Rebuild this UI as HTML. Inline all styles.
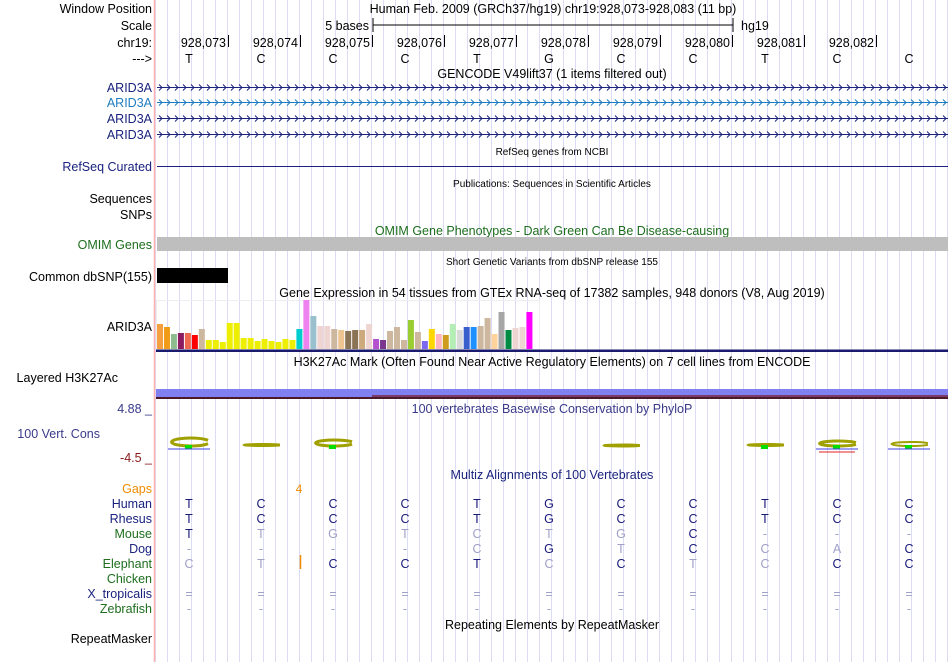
<!DOCTYPE html>
<html><head><meta charset="utf-8">
<style>
body{margin:0;background:#fff;width:950px;height:662px;overflow:hidden;font-family:"Liberation Sans",sans-serif}
svg{display:block}
text{font-family:"Liberation Sans",sans-serif}
</style></head>
<body>
<svg id="chart" width="950" height="662" xmlns="http://www.w3.org/2000/svg">
<g id="grid"></g>
<line x1="154.5" y1="0" x2="154.5" y2="662" stroke="#ffb0b0" stroke-width="1.5"/>
<g font-size="12.5" text-anchor="end" fill="#000">
<text x="152" y="13">Window Position</text>
<text x="152" y="30">Scale</text>
<text x="152" y="47">chr19:</text>
<text x="152" y="63">---&gt;</text>
<text x="152" y="92" fill="#1a237e">ARID3A</text>
<text x="152" y="107" fill="#1e7cc0">ARID3A</text>
<text x="152" y="123" fill="#1a237e">ARID3A</text>
<text x="152" y="139" fill="#1a237e">ARID3A</text>
<text x="152" y="171" fill="#1a237e">RefSeq Curated</text>
<text x="152" y="203">Sequences</text>
<text x="152" y="219">SNPs</text>
<text x="152" y="249" fill="#1e6e1e">OMIM Genes</text>
<text x="152" y="281">Common dbSNP(155)</text>
<text x="152" y="331">ARID3A</text>
<text x="118" y="382">Layered H3K27Ac</text>
<text x="152" y="413" fill="#3a3a8a">4.88 _</text>
<text x="100" y="438" fill="#3a3a8a">100 Vert. Cons</text>
<text x="152" y="462" fill="#8a1a1a">-4.5 _</text>
<text x="152" y="493" fill="#f08c00">Gaps</text>
<text x="152" y="508" fill="#1a237e">Human</text>
<text x="152" y="523" fill="#1a237e">Rhesus</text>
<text x="152" y="538" fill="#1e6e1e">Mouse</text>
<text x="152" y="553" fill="#1a237e">Dog</text>
<text x="152" y="568" fill="#1e6e1e">Elephant</text>
<text x="152" y="583" fill="#1e6e1e">Chicken</text>
<text x="152" y="598" fill="#1a237e">X_tropicalis</text>
<text x="152" y="613" fill="#1e6e1e">Zebrafish</text>
<text x="152" y="643">RepeatMasker</text>
</g>
<g font-size="12.5" text-anchor="middle">
<text x="553" y="13">Human Feb. 2009 (GRCh37/hg19)   chr19:928,073-928,083 (11 bp)</text>
<text x="552" y="78">GENCODE V49lift37 (1 items filtered out)</text>
<text x="552" y="155" font-size="10">RefSeq genes from NCBI</text>
<text x="552" y="187" font-size="10">Publications: Sequences in Scientific Articles</text>
<text x="552" y="235" fill="#1e6e1e">OMIM Gene Phenotypes - Dark Green Can Be Disease-causing</text>
<text x="552" y="265" font-size="10">Short Genetic Variants from dbSNP release 155</text>
<text x="552" y="297">Gene Expression in 54 tissues from GTEx RNA-seq of 17382 samples, 948 donors (V8, Aug 2019)</text>
<text x="552" y="366">H3K27Ac Mark (Often Found Near Active Regulatory Elements) on 7 cell lines from ENCODE</text>
<text x="552" y="413" fill="#3a3a8a">100 vertebrates Basewise Conservation by PhyloP</text>
<text x="552" y="479" fill="#1a237e">Multiz Alignments of 100 Vertebrates</text>
<text x="552" y="629">Repeating Elements by RepeatMasker</text>
</g>
<g>
<text x="369" y="30" font-size="12.5" text-anchor="end">5 bases</text>
<line x1="373" y1="25" x2="733" y2="25" stroke="#000"/>
<line x1="373" y1="18" x2="373" y2="32" stroke="#000"/>
<line x1="733" y1="18" x2="733" y2="32" stroke="#000"/>
<text x="741" y="30" font-size="12.5">hg19</text>
</g>
<g id="ruler"></g>
<g id="genes"></g>
<line x1="157" y1="166.5" x2="948" y2="166.5" stroke="#1a237e"/>
<rect x="157" y="237" width="791" height="14" fill="#bebebe"/>
<rect x="157" y="268" width="71" height="15" fill="#000"/>
<rect x="156.5" y="300.5" width="383" height="49" fill="none" stroke="#eee"/>
<g id="gtex"></g>
<rect x="156" y="349.5" width="792" height="2.5" fill="#1a1a6e"/>
<g>
<rect x="156" y="389" width="216" height="8" fill="#8080f0"/>
<rect x="372" y="389" width="576" height="6" fill="#8080f0"/>
<rect x="372" y="395" width="576" height="2" fill="#7a3a6a"/>
<rect x="156" y="397" width="792" height="2" fill="#4a1a2a"/>
</g>
<g id="cons"></g>
<text x="299" y="493" font-size="12" fill="#f08c00" text-anchor="middle">4</text>
<line x1="300.5" y1="555" x2="300.5" y2="569" stroke="#f08c00" stroke-width="1.5"/>
<g id="aln"></g>
</svg>
<script>
const NS='http://www.w3.org/2000/svg';
const positions=['928,073','928,074','928,075','928,076','928,077','928,078','928,079','928,080','928,081','928,082'];
const refBases=['T','C','C','C','T','G','C','C','T','C','C'];
const gtexValues=[25,22,15,16,16,14,20,9,9,7,26,26,11,11,8,10,8,7,10,9,20,49,33,23,23,20,19,18,19,19,25,10,9,18,22,9,29,17,8,20,15,14,25,19,22,22,23,31,15,37,19,21,22,37];
const gtexColors=['#f4a040','#f09c18','#8fbc8f','#8b1c62','#ee6a50','#ff0000','#cdb79e','#eeee00','#eeee00','#eeee00','#eeee00','#eeee00','#eeee00','#eeee00','#eeee00','#eeee00','#eeee00','#eeee00','#eeee00','#eeee00','#00cdcd','#ee82ee','#9ac0cd','#eed5d2','#eed5d2','#cdb79e','#eec591','#8b7355','#8b7355','#cdaa7d','#eed5d2','#b452cd','#7a378b','#cdb79e','#cdb79e','#cdb79e','#9acd32','#cdb79e','#7b68ee','#ffd700','#ffb6c1','#cd9b1d','#b4eeb4','#d9d9d9','#3a5fcd','#1e90ff','#cdb79e','#cdb79e','#ffd39b','#a6a6a6','#008b45','#eed5d2','#eed5d2','#ff00ff'];
const species=['Human','Rhesus','Mouse','Dog','Elephant','Chicken','X_tropicalis','Zebrafish'];
const alnHuman='TCCCTGCCTCC';
const alnRhesus='TCCCTGCCTCC';
const alnMouse='TTGTCTGC---';
const alnDog='----CGTCCAC';
const alnElephant='CTCCTCCTCCC';
const alnChicken='           ';
const alnXtrop='===========';
const alnZebra='-----------';
const consCols=[0,1,2,6,8,9,10];
const consHeights=[8,2,6,1,2,5,4];

const X0=153, BW=72;
const bx=i=>X0+BW/2+BW*i;
function el(tag,attrs,parent,txt){const e=document.createElementNS(NS,tag);for(const k in attrs)e.setAttribute(k,attrs[k]);if(txt!==undefined)e.textContent=txt;parent.appendChild(e);return e;}

const grid=document.getElementById('grid');
for(let x=155;x<950;x+=12){const l=el('line',{x1:x+.5,y1:0,x2:x+.5,y2:662,stroke:'#dcdcf4'},grid);

}

const ruler=document.getElementById('ruler');
positions.forEach((p,i)=>{const tx=X0+BW*(i+1)+3;
const t=el('text',{x:tx-2,y:47,'font-size':12.5,'text-anchor':'end'},ruler,p);


const l=el('line',{x1:tx+.5,y1:35,x2:tx+.5,y2:47,stroke:'#000'},ruler);

});
refBases.forEach((b,i)=>{const t=el('text',{x:bx(i),y:63,'font-size':12.5,'text-anchor':'middle'},ruler,b);

});

const genes=document.getElementById('genes');
[[87,'#1a237e'],[102,'#1e7cc0'],[118,'#1a237e'],[134,'#1a237e']].forEach(([y,c])=>{
const g=el('g',{},genes);


el('line',{x1:157,y1:y+.5,x2:948,y2:y+.5,stroke:c},g);
let d='';for(let x=159;x<948;x+=8)d+=`M${x} ${y-2.5}L${x+3} ${y+.5}L${x} ${y+3.5}`;
el('path',{d:d,stroke:c,fill:'none','stroke-width':1},g);});

const gtex=document.getElementById('gtex');
const gy=d=>349-d;
gtexValues.forEach((v,i)=>{const r=el('rect',{x:157+i*6.97,y:gy(v),width:6,height:v,fill:gtexColors[i]},gtex);

});

const cons=document.getElementById('cons');
consCols.forEach((c,k)=>{const h=consHeights[k];const cx=bx(c);
const g=el('g',{},cons);


const ry=Math.max(1,h/2), cy=444-h/2+2;
el('path',{d:`M${cx+19} ${cy-ry*0.4} A19 ${ry} 0 1 0 ${cx+19} ${cy+ry*0.4}`,fill:'none',stroke:'#a0a000','stroke-width':h>=5?3:2},g);
if(h>=2&&c!==1)el('rect',{x:cx-4,y:cy+ry-1,width:7,height:4,fill:'#00e000'},g);
if(c===0||c===9||c===10)el('line',{x1:cx-21,y1:cy+ry+3,x2:cx+21,y2:cy+ry+3,stroke:'#4040e0'},g);});
el('line',{x1:bx(9)-18,y1:452,x2:bx(9)+18,y2:452,stroke:'#e02020'},cons);

const aln=document.getElementById('aln');
const rows=[alnHuman,alnRhesus,alnMouse,alnDog,alnElephant,alnChicken,alnXtrop,alnZebra];
rows.forEach((s,r)=>{const y=508+15*r;
for(let i=0;i<s.length;i++){const ch=s[i];if(ch===' ')continue;
const match=ch===alnHuman[i];
const col=(r<2||match)&&ch!=='-'&&ch!=='='?'#1a1a7a':'#a0a0c8';
const t=el('text',{x:bx(i),y:y,'font-size':12.5,'text-anchor':'middle',fill:col},aln,ch);

}});
</script>
</body></html>
